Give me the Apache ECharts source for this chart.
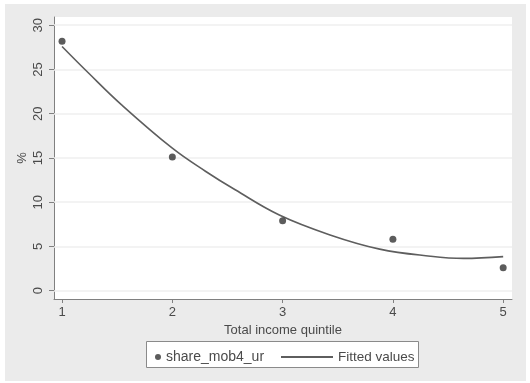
<!DOCTYPE html>
<html>
<head>
<meta charset="utf-8">
<script src="https://cdn.jsdelivr.net/npm/echarts@6/dist/echarts.min.js"></script>
<style>
html,body{margin:0;padding:0;background:#fff;}
#chart{width:530px;height:383px;}
</style>
</head>
<body>
<div id="chart"></div>
<script>
// Data
const quintiles = [1, 2, 3, 4, 5];
const shareMob4Ur = [28.2, 15.1, 7.9, 5.8, 2.6];
const fittedX = [1, 1.24, 1.54, 2.0, 2.3, 2.57, 2.97, 3.43, 3.88, 4.34, 4.64, 5];
const fittedY = [27.6, 24.6, 21.0, 16.1, 13.5, 11.4, 8.55, 6.3, 4.7, 3.9, 3.65, 3.85];
const xTicks = [1, 2, 3, 4, 5];
const yTicks = [0, 5, 10, 15, 20, 25, 30];

const txt = '#4a4a4a';
const font = 'Liberation Sans, Arial, sans-serif';

const chart = echarts.init(document.getElementById('chart'), null, {renderer: 'canvas'});
chart.setOption({
  backgroundColor: '#ffffff',
  animation: false,
  textStyle: {fontFamily: font},
  graphic: [
    {type: 'rect', z: -100, silent: true, shape: {x: 5, y: 4, width: 521, height: 377}, style: {fill: '#ebebeb'}},
    {type: 'rect', z: 1, silent: true, shape: {x: 146.5, y: 341.5, width: 272, height: 26}, style: {fill: '#ffffff', stroke: '#8a8a8a', lineWidth: 1}}
  ],
  grid: {left: 54, right: 18, top: 17, bottom: 84, show: true, backgroundColor: '#ffffff', borderWidth: 0},
  legend: [
    {data: [{name: 'share_mob4_ur', icon: 'circle'}], left: 150, top: 345, itemWidth: 6, itemHeight: 6, itemGap: 6,
     textStyle: {color: txt, fontSize: 14, fontFamily: font}, z: 5},
    {data: ['Fitted values'], left: 275, top: 345, itemWidth: 52, itemHeight: 2,
     textStyle: {color: txt, fontSize: 13.5, fontFamily: font}, z: 5}
  ],
  xAxis: {
    type: 'value', min: 0.927, max: 5.08,
    name: 'Total income quintile', nameLocation: 'middle', nameGap: 24,
    nameTextStyle: {color: txt, fontSize: 13, fontFamily: font},
    axisLine: {show: true, onZero: false, lineStyle: {color: '#808080', width: 1}},
    axisTick: {show: true, length: 4, customValues: xTicks, lineStyle: {color: '#808080'}},
    axisLabel: {customValues: xTicks, color: txt, fontSize: 13, margin: 7, fontFamily: font},
    splitLine: {show: false}
  },
  yAxis: {
    type: 'value', min: -0.94, max: 30.93,
    name: '%', nameLocation: 'middle', nameGap: 25, nameRotate: 90, nameMoveOverlap: false,
    nameTextStyle: {color: txt, fontSize: 13, fontFamily: font},
    axisLine: {show: true, onZero: false, lineStyle: {color: '#808080', width: 1}},
    axisTick: {show: true, length: 5, customValues: yTicks, lineStyle: {color: '#808080'}},
    axisLabel: {customValues: yTicks, rotate: 90, color: txt, fontSize: 13, margin: 9, fontFamily: font},
    splitLine: {show: false}
  },
  series: [
    {
      name: 'share_mob4_ur', type: 'scatter', symbol: 'circle', symbolSize: 7,
      itemStyle: {color: '#333333'},
      data: quintiles.map((q, i) => [q, shareMob4Ur[i]]),
      z: 3,
      markLine: {
        silent: true, symbol: 'none', label: {show: false}, z: 1,
        lineStyle: {color: '#efefef', width: 1.5, type: 'solid'},
        data: yTicks.map(v => ({yAxis: v}))
      }
    },
    {
      name: 'Fitted values', type: 'line', smooth: 0.4, symbol: 'none', showSymbol: false,
      lineStyle: {color: '#5e5e5e', width: 1.6},
      itemStyle: {color: '#5e5e5e'},
      data: fittedX.map((x, i) => [x, fittedY[i]]),
      z: 2
    }
  ]
});
</script>
</body>
</html>
